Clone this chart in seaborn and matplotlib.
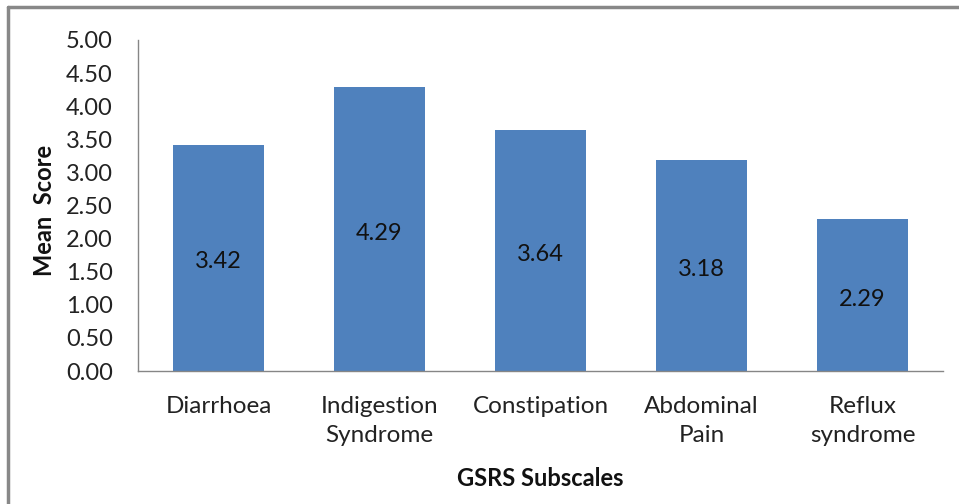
import matplotlib

matplotlib.use("Agg")
import matplotlib.pyplot as plt
import pandas as pd
import seaborn as sns
from matplotlib.lines import Line2D

categories = ["Diarrhoea", "Indigestion\nSyndrome", "Constipation", "Abdominal\nPain", "Reflux\nsyndrome"]
mean_scores = [3.42, 4.29, 3.64, 3.18, 2.29]
y_ticks = [0.0, 0.5, 1.0, 1.5, 2.0, 2.5, 3.0, 3.5, 4.0, 4.5, 5.0]

df = pd.DataFrame({"Subscale": categories, "Mean Score": mean_scores})

sns.set_style("white")
plt.rcParams["font.family"] = ["Lato", "DejaVu Sans"]

W, H = 959, 504
fig = plt.figure(figsize=(W / 100, H / 100), dpi=100)
ax = fig.add_axes([138 / W, 1 - 371 / H, (943 - 138) / W, (371 - 40) / H])

sns.barplot(data=df, x="Subscale", y="Mean Score", color="#4F81BD", saturation=1,
            width=0.57, ax=ax, edgecolor="none")

ax.set_xlim(-0.5, 4.5)
ax.set_ylim(0, 5)
ax.set_yticks(y_ticks)
ax.set_yticklabels([f"{t:.2f}" for t in y_ticks], fontsize=17, color="#222222")
ax.tick_params(axis="x", labelsize=17.5, labelcolor="#222222", pad=18, length=0)
ax.tick_params(axis="y", length=0, pad=18)
for lbl in ax.get_xticklabels():
    lbl.set_linespacing(1.45)

for side in ["top", "right"]:
    ax.spines[side].set_visible(False)
for side in ["left", "bottom"]:
    ax.spines[side].set_color("#868686")
    ax.spines[side].set_linewidth(1.0)

# value labels in the middle of each bar
for i, v in enumerate(mean_scores):
    ax.annotate(f"{v:.2f}", (i, v / 2), xytext=(0, -3), textcoords="offset points",
                ha="center", va="center", fontsize=17, color="#111111")

ax.set_xlabel("")
ax.set_ylabel("")
fig.text(540 / W, 1 - 479 / H, "GSRS Subscales", ha="center", va="center",
         fontsize=17, fontweight="bold", color="#111111")
fig.text(45 / W, 1 - 210 / H, "Mean  Score", ha="center", va="center", rotation=90,
         fontsize=17, fontweight="bold", color="#111111")

# outer chart border (only top and left visible in the crop)
fig.add_artist(Line2D([8 / W, 1.0], [1 - 7 / H, 1 - 7 / H], color="#888888", lw=2.5,
                      transform=fig.transFigure))
fig.add_artist(Line2D([8 / W, 8 / W], [0.0, 1 - 7 / H], color="#888888", lw=2.5,
                      transform=fig.transFigure))

fig.savefig("out.png", dpi=100)
